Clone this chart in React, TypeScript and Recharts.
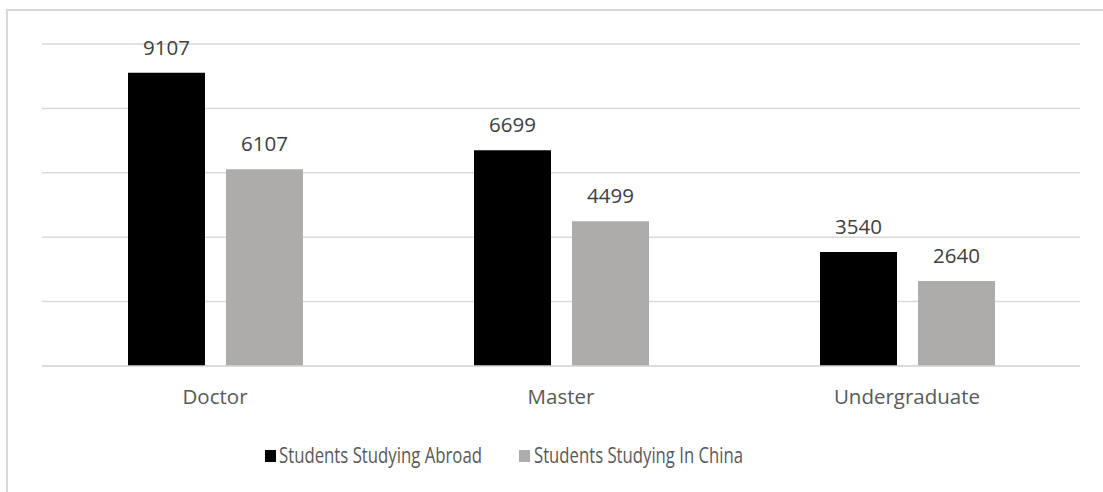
import React from "react";
import { BarChart, Bar, XAxis, YAxis, CartesianGrid, LabelList, Legend } from "recharts";

const categories = ["Doctor", "Master", "Undergraduate"];
const abroad = [9107, 6699, 3540];
const inChina = [6107, 4499, 2640];
const yTicks = [0, 2000, 4000, 6000, 8000, 10000];
const seriesNames = ["Students Studying Abroad", "Students Studying In China"];

const data = categories.map((c, i) => ({ name: c, abroad: abroad[i], china: inChina[i] }));

const FONT = "'Open Sans', sans-serif";
const COLORS = ["#000000", "#AEABAB"];

const LegendContent = () => (
  <svg width={1103} height={40} style={{ display: "block" }}>
    <rect x={265} y={10} width={11} height={12} fill={COLORS[0]} />
    <text x={279} y={23} fontFamily={FONT} fontSize={21} fill="#595959" textLength={203} lengthAdjust="spacingAndGlyphs">
      {seriesNames[0]}
    </text>
    <rect x={519} y={10} width={11} height={12} fill={COLORS[1]} />
    <text x={534} y={23} fontFamily={FONT} fontSize={21} fill="#595959" textLength={209} lengthAdjust="spacingAndGlyphs">
      {seriesNames[1]}
    </text>
  </svg>
);

export default function App() {
  return (
    <div style={{ position: "absolute", left: 0, top: 0, width: 1103, height: 492, overflow: "hidden", background: "#fff" }}>
      <div style={{ position: "absolute", left: 6, top: 9, width: 1200, height: 600, border: "2px solid #d9d9d9", boxSizing: "border-box" }} />
      <div style={{ position: "absolute", left: 0, top: 0 }}>
        <BarChart
          width={1103}
          height={492}
          data={data}
          margin={{ top: 44, left: 42, right: 23, bottom: 96 }}
          barSize={77}
          barGap={21}
        >
          <CartesianGrid vertical={false} stroke="#d9d9d9" strokeWidth={1.5} />
          <YAxis hide domain={[0, 10000]} ticks={yTicks} />
          <XAxis
            dataKey="name"
            height={30}
            tickLine={false}
            axisLine={{ stroke: "#d9d9d9", strokeWidth: 1.5 }}
            tickMargin={17}
            tick={{ fill: "#595959", fontSize: 20.5, fontFamily: FONT }}
          />
          <Legend
            layout="horizontal"
            verticalAlign="middle"
            align="center"
            wrapperStyle={{ top: 440, left: 0, width: 1103, height: 40 }}
            content={<LegendContent />}
          />
          <Bar dataKey="abroad" name={seriesNames[0]} fill={COLORS[0]} isAnimationActive={false}>
            <LabelList dataKey="abroad" position="top" offset={18} fill="#404040" fontSize={20.5} fontFamily={FONT} />
          </Bar>
          <Bar dataKey="china" name={seriesNames[1]} fill={COLORS[1]} isAnimationActive={false}>
            <LabelList dataKey="china" position="top" offset={18} fill="#404040" fontSize={20.5} fontFamily={FONT} />
          </Bar>
        </BarChart>
      </div>
    </div>
  );
}
